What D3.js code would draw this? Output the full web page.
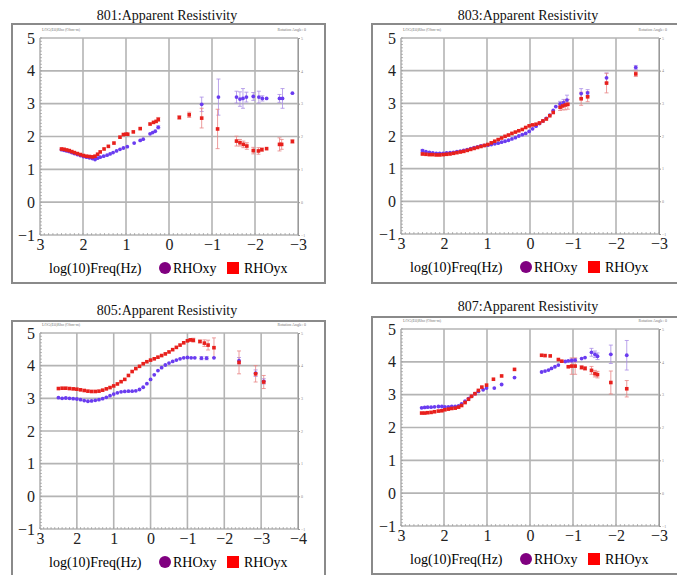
<!DOCTYPE html>
<html>
<head>
<meta charset="utf-8">
<script src="https://cdn.jsdelivr.net/npm/d3@7"></script>
<style>
  body { margin: 0; background: #fff; }
  text { font-family: "Liberation Serif", "DejaVu Serif", serif; }
</style>
</head>
<body>
<div id="chart"></div>
<script>
// each point: [log10 freq, log10 rho, error half-width]
const xy801 = [[2.50,1.60,0],[2.44,1.58,0],[2.38,1.56,0],[2.32,1.54,0],[2.26,1.51,0],[2.20,1.48,0],[2.13,1.45,0],[2.06,1.42,0],
  [1.99,1.39,0],[1.92,1.37,0],[1.85,1.35,0],[1.78,1.33,0],[1.72,1.30,0],[1.66,1.34,0],[1.60,1.37,0],[1.52,1.40,0],[1.44,1.43,0],
  [1.37,1.47,0],[1.30,1.51,0],[1.22,1.56,0],[1.14,1.61,0],[1.06,1.65,0],[0.97,1.69,0],[0.81,1.80,0],[0.67,1.88,0],[0.60,1.92,0],
  [0.44,2.08,0],[0.38,2.12,0],[0.32,2.16,0],[0.25,2.28,0.05],
  [-0.76,2.98,0.22],[-1.15,3.20,0.55],[-1.57,3.20,0.18],[-1.65,3.14,0.22],[-1.72,3.16,0.3],[-1.80,3.20,0.15],
  [-1.96,3.22,0.12],[-2.09,3.20,0.18],[-2.17,3.16,0.08],[-2.27,3.16,0],[-2.57,3.16,0.12],[-2.64,3.16,0.3],[-2.87,3.32,0]];
const yx801 = [[2.50,1.62,0],[2.44,1.61,0],[2.38,1.59,0],[2.32,1.57,0],[2.26,1.54,0],[2.20,1.51,0],[2.13,1.48,0],[2.06,1.45,0],
  [1.99,1.42,0],[1.92,1.40,0],[1.85,1.39,0],[1.78,1.38,0],[1.72,1.40,0],[1.66,1.46,0],[1.60,1.53,0],[1.51,1.62,0],[1.41,1.70,0],
  [1.28,1.80,0],[1.14,1.98,0],[1.06,2.06,0],[1.00,2.07,0],[0.96,2.07,0],[0.83,2.14,0],[0.67,2.24,0],[0.44,2.38,0],[0.36,2.43,0],
  [0.30,2.46,0],[0.25,2.52,0.06],
  [-0.24,2.58,0.05],[-0.47,2.66,0.08],[-0.76,2.56,0.3],[-1.13,2.23,0.6],[-1.57,1.86,0.15],[-1.65,1.81,0.1],[-1.73,1.76,0.1],
  [-1.81,1.71,0.1],[-1.96,1.57,0.1],[-2.08,1.56,0.1],[-2.16,1.60,0.05],[-2.27,1.63,0],[-2.57,1.76,0.2],[-2.62,1.76,0.15],[-2.87,1.85,0.05]];

const xy803 = [[2.50,1.55,0.04],[2.42,1.52,0],[2.34,1.50,0],[2.26,1.48,0],[2.18,1.47,0],[2.10,1.47,0],[2.02,1.47,0],[1.94,1.48,0],
  [1.86,1.49,0],[1.78,1.50,0],[1.70,1.52,0],[1.62,1.54,0],[1.54,1.56,0],[1.46,1.58,0],[1.38,1.61,0],[1.30,1.64,0],[1.22,1.67,0],
  [1.14,1.70,0],[1.06,1.71,0],[0.98,1.72,0],[0.90,1.74,0],[0.82,1.76,0],[0.74,1.78,0],[0.66,1.81,0],[0.58,1.84,0],[0.50,1.87,0],
  [0.42,1.91,0],[0.34,1.95,0],[0.26,2.00,0],[0.18,2.04,0],[0.10,2.08,0],[0.02,2.14,0],[-0.06,2.22,0],[-0.14,2.30,0],[-0.22,2.38,0],
  [-0.30,2.46,0],[-0.38,2.54,0],[-0.46,2.64,0],[-0.54,2.78,0],[-0.60,2.90,0],[-0.70,2.98,0.08],[-0.78,3.02,0.1],[-0.86,3.10,0.15],
  [-1.19,3.30,0.15],[-1.34,3.32,0.1],[-1.78,3.78,0.15],[-2.46,4.10,0.06]];
const yx803 = [[2.50,1.45,0.03],[2.42,1.44,0],[2.34,1.43,0],[2.26,1.43,0],[2.18,1.42,0],[2.10,1.42,0],[2.02,1.43,0],[1.94,1.44,0],
  [1.86,1.45,0],[1.78,1.47,0],[1.70,1.49,0],[1.62,1.51,0],[1.54,1.53,0],[1.46,1.56,0],[1.38,1.59,0],[1.30,1.62,0],[1.22,1.65,0],
  [1.14,1.68,0],[1.06,1.71,0],[0.98,1.74,0],[0.90,1.79,0],[0.82,1.84,0],[0.74,1.89,0],[0.66,1.94,0],[0.58,1.99,0],[0.50,2.03,0],
  [0.42,2.08,0],[0.34,2.12,0],[0.26,2.16,0],[0.18,2.20,0],[0.10,2.26,0],[0.02,2.31,0],[-0.06,2.34,0],[-0.14,2.36,0],[-0.22,2.40,0],
  [-0.30,2.46,0],[-0.38,2.52,0],[-0.46,2.62,0],[-0.54,2.72,0],[-0.70,2.88,0.1],[-0.76,2.92,0.12],[-0.82,2.95,0.15],[-0.88,2.97,0.15],
  [-1.19,3.14,0.2],[-1.34,3.20,0.15],[-1.78,3.62,0.3],[-2.46,3.90,0.08]];

const xy805 = [[2.50,3.02,0],[2.40,3.00,0],[2.30,3.01,0],[2.20,3.00,0],[2.10,2.99,0],[2.00,2.98,0],[1.90,2.96,0],[1.80,2.93,0],
  [1.70,2.91,0],[1.60,2.92,0],[1.50,2.94,0],[1.40,2.96,0],[1.30,2.99,0],[1.20,3.03,0],[1.10,3.08,0],[1.00,3.13,0],[0.90,3.17,0],
  [0.80,3.20,0],[0.70,3.21,0],[0.60,3.22,0],[0.50,3.22,0],[0.40,3.23,0],[0.30,3.27,0],[0.20,3.34,0],[0.10,3.45,0],[0.00,3.58,0],
  [-0.10,3.72,0],[-0.20,3.85,0],[-0.30,3.94,0],[-0.40,4.02,0],[-0.50,4.08,0],[-0.60,4.13,0],[-0.70,4.17,0],[-0.80,4.21,0],
  [-0.90,4.24,0],[-1.00,4.25,0],[-1.10,4.24,0],[-1.20,4.24,0],[-1.38,4.23,0.05],[-1.52,4.23,0.05],[-1.72,4.24,0],
  [-2.40,4.15,0.1],[-2.85,3.77,0.1],[-3.07,3.52,0.08]];
const yx805 = [[2.50,3.30,0],[2.40,3.31,0],[2.30,3.31,0],[2.20,3.30,0],[2.10,3.29,0],[2.00,3.28,0],[1.90,3.26,0],[1.80,3.24,0],
  [1.70,3.22,0],[1.60,3.21,0],[1.50,3.21,0],[1.40,3.22,0],[1.30,3.25,0],[1.20,3.29,0],[1.10,3.33,0],[1.00,3.38,0],[0.90,3.44,0],
  [0.80,3.51,0],[0.70,3.58,0],[0.60,3.70,0],[0.50,3.82,0],[0.40,3.91,0],[0.30,3.98,0],[0.20,4.06,0],[0.10,4.12,0],[0.00,4.17,0],
  [-0.10,4.21,0],[-0.20,4.26,0],[-0.30,4.31,0],[-0.40,4.36,0],[-0.50,4.42,0],[-0.60,4.49,0],[-0.70,4.56,0],[-0.80,4.63,0],
  [-0.90,4.70,0],[-1.00,4.76,0],[-1.08,4.79,0.04],[-1.16,4.78,0.06],[-1.34,4.74,0.04],[-1.46,4.69,0.1],[-1.56,4.63,0.15],
  [-1.72,4.55,0.3],[-2.40,4.10,0.35],[-2.85,3.75,0.25],[-3.07,3.50,0.2]];

const xy807 = [[2.52,2.60,0],[2.45,2.61,0],[2.38,2.62,0],[2.30,2.62,0],[2.22,2.63,0],[2.13,2.64,0],[2.05,2.64,0],[1.98,2.63,0],
  [1.90,2.63,0],[1.82,2.64,0],[1.74,2.64,0],[1.66,2.66,0],[1.59,2.72,0],[1.51,2.80,0],[1.43,2.88,0],[1.36,2.95,0],[1.28,3.03,0],
  [1.20,3.10,0],[1.09,3.15,0],[1.01,3.20,0],[0.83,3.20,0],[0.66,3.31,0],[0.36,3.52,0],[-0.27,3.69,0],[-0.35,3.72,0],[-0.43,3.75,0],
  [-0.50,3.80,0],[-0.58,3.85,0],[-0.66,3.90,0],[-0.82,4.01,0],[-0.89,4.03,0],[-0.97,4.04,0.05],[-1.05,4.05,0.05],[-1.20,4.10,0],
  [-1.28,4.13,0],[-1.43,4.29,0.12],[-1.51,4.23,0.1],[-1.57,4.17,0.1],[-1.88,4.23,0.28],[-2.25,4.20,0.45]];
const yx807 = [[2.52,2.44,0],[2.45,2.44,0],[2.38,2.45,0],[2.30,2.46,0],[2.22,2.48,0],[2.13,2.50,0],[2.05,2.51,0],[1.98,2.54,0],
  [1.90,2.56,0],[1.82,2.58,0],[1.74,2.59,0],[1.66,2.62,0],[1.59,2.67,0],[1.51,2.76,0],[1.43,2.86,0],[1.36,2.95,0],[1.28,3.03,0],
  [1.20,3.13,0],[1.12,3.23,0],[1.01,3.29,0],[0.85,3.47,0],[0.66,3.57,0],[0.36,3.77,0],[-0.27,4.20,0],[-0.35,4.19,0],[-0.47,4.18,0],
  [-0.66,4.07,0],[-0.74,4.02,0],[-0.89,3.85,0],[-0.97,3.87,0.25],[-1.05,3.87,0.25],[-1.20,3.83,0.05],[-1.28,3.80,0.05],
  [-1.43,3.74,0.12],[-1.51,3.64,0.1],[-1.57,3.61,0.1],[-1.88,3.37,0.35],[-2.25,3.18,0.25]];

const titles = ["801:Apparent Resistivity", "803:Apparent Resistivity", "805:Apparent Resistivity", "807:Apparent Resistivity"];
const yTicks = [-1, 0, 1, 2, 3, 4, 5];
const xTicksA = [3, 2, 1, 0, -1, -2, -3];
const xTicksB = [3, 2, 1, 0, -1, -2, -3, -4];
const xLabel = "log(10)Freq(Hz)";
const seriesNames = ["RHOxy", "RHOyx"];

const purple = "#6a3cf0", red = "#e8201c";
const intFmt = d => d < 0 ? "\u2212" + Math.abs(d) : String(d);

var svg = d3.select("#chart").append("svg")
    .attr("width", 677)
    .attr("height", 575);

//panel layout
const panels = [
  {title: titles[0], xy: xy801, yx: yx801, xt: xTicksA, l: 40, r: 298, t: 38, b: 235, fx: 12, fy: 24, fw: 313, fh: 259, ty: 20},
  {title: titles[1], xy: xy803, yx: yx803, xt: xTicksA, l: 401, r: 659, t: 38, b: 234, fx: 372, fy: 24, fw: 320, fh: 259, ty: 20},
  {title: titles[2], xy: xy805, yx: yx805, xt: xTicksB, l: 40, r: 298, t: 333, b: 529, fx: 12, fy: 321, fw: 313, fh: 270, ty: 315},
  {title: titles[3], xy: xy807, yx: yx807, xt: xTicksA, l: 401, r: 659, t: 329, b: 526, fx: 372, fy: 317, fw: 320, fh: 257, ty: 311}
];

panels.forEach(drawPanel);

function drawPanel(p) {
    var g = svg.append("g");

    //outer frame
    g.append("rect")
        .attr("x", p.fx).attr("y", p.fy)
        .attr("width", p.fw).attr("height", p.fh)
        .attr("fill", "none")
        .attr("stroke", "#8a8a8a")
        .attr("stroke-width", 2);

    g.append("text")
        .attr("x", (p.l + p.r) / 2 - 2)
        .attr("y", p.ty)
        .attr("text-anchor", "middle")
        .style("font-size", "14px")
        .attr("fill", "#111")
        .text(p.title);

    var x = d3.scaleLinear()
        .domain([p.xt[0], p.xt[p.xt.length - 1]])
        .range([p.l, p.r]);
    var y = d3.scaleLinear()
        .domain([-1, 5])
        .range([p.b, p.t]);

    //grid
    g.append("g")
        .selectAll("line.v")
        .data(p.xt)
        .enter().append("line")
        .attr("x1", d => x(d)).attr("x2", d => x(d))
        .attr("y1", y(5)).attr("y2", y(-1))
        .attr("stroke", "#b4b4b4")
        .attr("stroke-width", 1.6);
    g.append("g")
        .selectAll("line.h")
        .data(yTicks)
        .enter().append("line")
        .attr("x1", p.l).attr("x2", p.r)
        .attr("y1", d => y(d)).attr("y2", d => y(d))
        .attr("stroke", "#b4b4b4")
        .attr("stroke-width", 1.6);

    //minor ticks on left and bottom
    var xMinor = d3.range(p.xt[p.xt.length - 1], p.xt[0] + 0.001, 0.1);
    var yMinor = d3.range(-1, 5.001, 0.1);
    g.append("g")
        .selectAll("line")
        .data(yMinor)
        .enter().append("line")
        .attr("x1", p.l).attr("x2", p.l + 2)
        .attr("y1", d => y(d)).attr("y2", d => y(d))
        .attr("stroke", "#999").attr("stroke-width", 0.7);
    g.append("g")
        .selectAll("line")
        .data(xMinor)
        .enter().append("line")
        .attr("x1", d => x(d)).attr("x2", d => x(d))
        .attr("y1", p.b).attr("y2", p.b - 2)
        .attr("stroke", "#999").attr("stroke-width", 0.7);

    //axes
    var yAxis = g.append("g")
        .attr("transform", "translate(" + (p.l - 3) + ",0)")
        .call(d3.axisLeft(y).tickValues(yTicks).tickFormat(intFmt).tickSize(0).tickPadding(2));
    yAxis.select(".domain").remove();
    yAxis.selectAll("text")
        .style("font-family", "'Liberation Serif', serif")
        .style("font-size", "16px")
        .attr("fill", "#222");

    var xAxis = g.append("g")
        .attr("transform", "translate(0," + p.b + ")")
        .call(d3.axisBottom(x).tickValues(p.xt).tickFormat(intFmt).tickSize(0).tickPadding(4));
    xAxis.select(".domain").remove();
    xAxis.selectAll("text")
        .style("font-family", "'Liberation Serif', serif")
        .style("font-size", "16px")
        .attr("fill", "#222");

    //right axis tiny labels
    var rAxis = g.append("g")
        .attr("transform", "translate(" + p.r + ",0)")
        .call(d3.axisRight(y).tickValues(yTicks).tickFormat(intFmt).tickSize(2).tickPadding(1));
    rAxis.select(".domain").attr("stroke", "#999");
    rAxis.selectAll("line").attr("stroke", "#999");
    rAxis.selectAll("text").style("font-size", "4px").attr("fill", "#888");

    //tiny header text
    g.append("text")
        .attr("x", p.l + 2).attr("y", p.t - 7)
        .style("font-size", "4px")
        .attr("fill", "#777")
        .text("LOG(E0)Rho (Ohm-m)");
    g.append("text")
        .attr("x", p.r + 8).attr("y", p.t - 7)
        .attr("text-anchor", "end")
        .style("font-size", "4px")
        .attr("fill", "#777")
        .text("Rotation Angle: 0");

    //error bars
    drawErr(g, p.xy, x, y, "#a98de6");
    drawErr(g, p.yx, x, y, "#e88484");

    //points
    g.append("g")
        .selectAll("circle")
        .data(p.xy)
        .enter().append("circle")
        .attr("cx", d => x(d[0]))
        .attr("cy", d => y(d[1]))
        .attr("r", 1.9)
        .attr("fill", purple);
    g.append("g")
        .selectAll("rect")
        .data(p.yx)
        .enter().append("rect")
        .attr("x", d => x(d[0]) - 1.8)
        .attr("y", d => y(d[1]) - 1.8)
        .attr("width", 3.6)
        .attr("height", 3.6)
        .attr("fill", red);

    //legend
    var ly = p.b + 38;
    g.append("text")
        .attr("x", p.l + 9).attr("y", ly)
        .style("font-size", "14px")
        .text(xLabel);
    g.append("circle")
        .attr("cx", p.l + 125).attr("cy", ly - 5)
        .attr("r", 6)
        .attr("fill", "#800080");
    g.append("text")
        .attr("x", p.l + 133).attr("y", ly)
        .style("font-size", "14px")
        .text(seriesNames[0]);
    g.append("rect")
        .attr("x", p.l + 187).attr("y", ly - 11)
        .attr("width", 12).attr("height", 12)
        .attr("fill", "#ff0000");
    g.append("text")
        .attr("x", p.l + 204).attr("y", ly)
        .style("font-size", "14px")
        .text(seriesNames[1]);
}

function drawErr(g, data, x, y, color) {
    var withErr = data.filter(d => d[2] > 0);
    var eg = g.append("g").attr("stroke", color).attr("stroke-width", 0.8);
    eg.selectAll("line.bar")
        .data(withErr)
        .enter().append("line")
        .attr("x1", d => x(d[0])).attr("x2", d => x(d[0]))
        .attr("y1", d => y(d[1] - d[2])).attr("y2", d => y(d[1] + d[2]));
    eg.selectAll("line.top")
        .data(withErr)
        .enter().append("line")
        .attr("x1", d => x(d[0]) - 2).attr("x2", d => x(d[0]) + 2)
        .attr("y1", d => y(d[1] + d[2])).attr("y2", d => y(d[1] + d[2]));
    eg.selectAll("line.bot")
        .data(withErr)
        .enter().append("line")
        .attr("x1", d => x(d[0]) - 2).attr("x2", d => x(d[0]) + 2)
        .attr("y1", d => y(d[1] - d[2])).attr("y2", d => y(d[1] - d[2]));
}
</script>
</body>
</html>
